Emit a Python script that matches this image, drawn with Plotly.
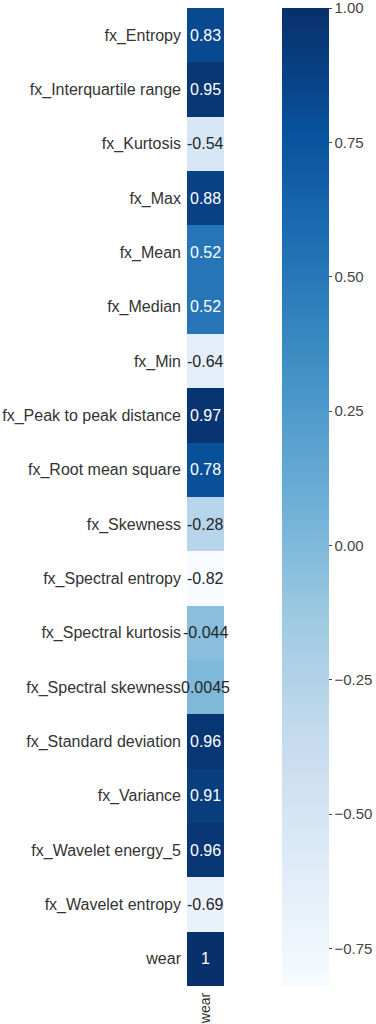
import plotly.graph_objects as go

features = ["fx_Entropy", "fx_Interquartile range", "fx_Kurtosis", "fx_Max", "fx_Mean",
            "fx_Median", "fx_Min", "fx_Peak to peak distance", "fx_Root mean square",
            "fx_Skewness", "fx_Spectral entropy", "fx_Spectral kurtosis",
            "fx_Spectral skewness", "fx_Standard deviation", "fx_Variance",
            "fx_Wavelet energy_5", "fx_Wavelet entropy", "wear"]
corr_wear = [0.83, 0.95, -0.54, 0.88, 0.52, 0.52, -0.64, 0.97, 0.78, -0.28, -0.82,
             -0.044, 0.0045, 0.96, 0.91, 0.96, -0.69, 1.0]
labels = ["0.83", "0.95", "-0.54", "0.88", "0.52", "0.52", "-0.64", "0.97", "0.78",
          "-0.28", "-0.82", "-0.044", "0.0045", "0.96", "0.91", "0.96", "-0.69", "1"]
column = ["wear"]
cbar_ticks = [1.0, 0.75, 0.5, 0.25, 0.0, -0.25, -0.5, -0.75]
cbar_labels = ["1.00", "0.75", "0.50", "0.25", "0.00", "\u22120.25", "\u22120.50", "\u22120.75"]

blues = [[0.0, "#f7fbff"], [0.125, "#deebf7"], [0.25, "#c6dbef"], [0.375, "#9ecae1"],
         [0.5, "#6baed6"], [0.625, "#4292c6"], [0.75, "#2171b5"], [0.875, "#08519c"],
         [1.0, "#08306b"]]

zmin, zmax = min(corr_wear), max(corr_wear)

W, H = 376, 1024
ML, MR, MT, MB = 187, 4, 8, 38
pw = W - ML - MR

fig = go.Figure()
fig.add_trace(go.Heatmap(
    z=[[v] for v in corr_wear],
    x=column,
    y=features,
    colorscale=blues,
    zmin=zmin, zmax=zmax,
    showscale=True,
    colorbar=dict(
        x=(282 - ML) / pw, xanchor="left", xref="paper",
        y=0, yanchor="bottom", len=1, lenmode="fraction",
        thickness=47, outlinewidth=0, xpad=0, ypad=0,
        tickvals=cbar_ticks, ticktext=cbar_labels,
        ticklabeloverflow="allow",
        ticks="outside", ticklen=3, tickcolor="#444",
        tickfont=dict(family="Liberation Sans, Arial", size=15, color="#444"),
    ),
    hoverinfo="skip",
))

for f, v, lab in zip(features, corr_wear, labels):
    frac = (v - zmin) / (zmax - zmin)
    fig.add_annotation(x="wear", y=f, text=lab, showarrow=False,
                       font=dict(family="Liberation Sans, Arial", size=16,
                                 color="white" if frac > 0.5 else "#262626"))

fig.update_yaxes(autorange="reversed", showgrid=False, zeroline=False, showline=False,
                 ticks="", ticklabelstandoff=5,
                 tickfont=dict(family="Liberation Sans, Arial", size=16, color="#333"))
fig.update_xaxes(domain=[0, 45 / pw], showgrid=False, zeroline=False, showline=False,
                 ticks="", tickangle=-90, ticklabelstandoff=3,
                 tickfont=dict(family="Liberation Sans, Arial", size=14, color="#333"))

fig.update_layout(
    width=W, height=H,
    margin=dict(l=ML, r=MR, t=MT, b=MB, autoexpand=False),
    paper_bgcolor="white", plot_bgcolor="white",
    showlegend=False,
)

fig.write_html("out.html", config={"displayModeBar": False},
               post_script="document.body.style.margin='0';document.body.style.overflow='hidden';")
